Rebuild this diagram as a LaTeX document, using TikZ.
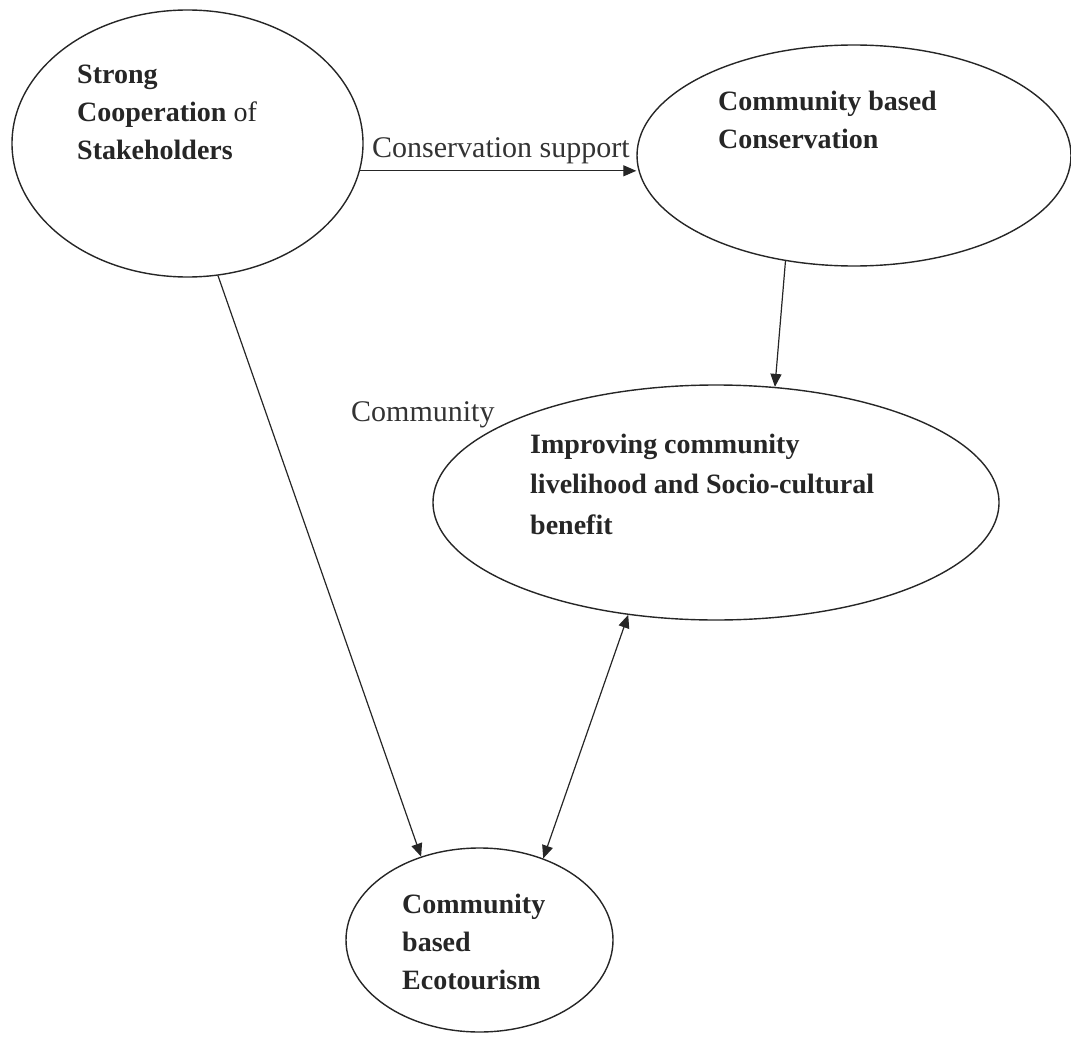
\documentclass[tikz,border=0pt]{standalone}
\usepackage{fontspec}
\setmainfont{Liberation Serif}
\usetikzlibrary{shapes.geometric, arrows.meta, positioning}
\tikzstyle{bubble} = [ellipse, draw=black!85, line width=1.4pt, inner sep=0pt]
\tikzstyle{bubbletext} = [align=left, inner sep=0pt, anchor=base west, text=black!85, font=\fontsize{28}{38}\selectfont]
\tikzstyle{edgetext} = [inner sep=0pt, anchor=base west, text=black!80, font=\fontsize{30}{36}\selectfont]
\tikzstyle{arrow} = [line width=1.2pt, draw=black!85, -{Triangle[length=13pt,width=11pt]}]
\tikzstyle{twoway} = [line width=1.2pt, draw=black!85, {Triangle[length=13pt,width=11pt]}-{Triangle[length=13pt,width=11pt]}]

\begin{document}
\begin{tikzpicture}[x=1pt, y=-1pt]
\useasboundingbox (0,0) rectangle (1071,1041);

% --- Ellipses ---
\node (coop) [bubble, minimum width=351pt, minimum height=267pt] at (187.5,143.5) {};
\node (cbc) [bubble, minimum width=434pt, minimum height=221pt] at (854,155.5) {};
\node (imp) [bubble, minimum width=566pt, minimum height=235pt] at (716,502.5) {};
\node (cbe) [bubble, minimum width=267pt, minimum height=184pt] at (479.5,940) {};

% --- Texts inside (anchored at last baseline) ---
\node (coopText) [bubbletext] at (77,159) {\textbf{Strong}\\\textbf{Cooperation} of\\\textbf{Stakeholders}};
\node (cbcText) [bubbletext] at (718,148) {\textbf{Community based}\\\textbf{Conservation}};
\node (impText) [bubbletext, font=\fontsize{28}{40.5}\selectfont] at (530,534) {\textbf{Improving community}\\\textbf{livelihood and Socio-cultural}\\\textbf{benefit}};
\node (cbeText) [bubbletext] at (402,989) {\textbf{Community}\\\textbf{based}\\\textbf{Ecotourism}};

% --- Loose labels ---
\node (supportLabel) [edgetext] at (372,157) {Conservation support};
\node (communityLabel) [edgetext] at (351,421) {Community};

% --- Arrows ---
\draw [arrow] (coop.-9) -- (coop.-9 -| cbc.west);
\draw [arrow] (cbc.-123) -- (imp.63);
\draw [arrow] (coop.-77) -- (cbe.125);
\draw [twoway] (cbe.52) -- (imp.-128);

\end{tikzpicture}
\end{document}
